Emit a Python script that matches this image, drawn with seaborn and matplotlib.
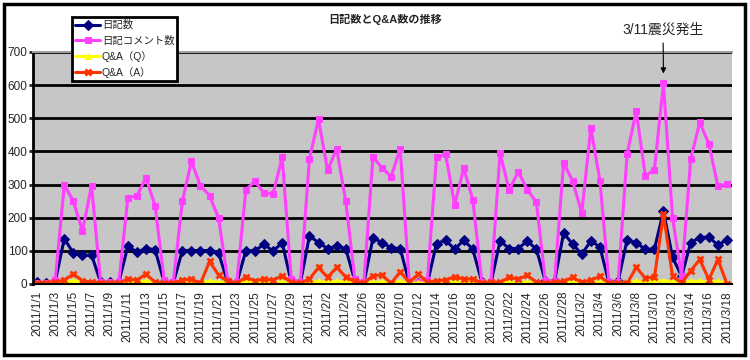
import matplotlib
matplotlib.use("Agg")
import matplotlib.pyplot as plt
import numpy as np
import pandas as pd
import seaborn as sns
from matplotlib.patches import Rectangle

# daily values, 2011/1/1 .. 2011/3/18
dates = pd.date_range("2011-01-01", "2011-03-18", freq="D")
date_labels = [f"{d.year}/{d.month}/{d.day}" for d in dates]

diary = [5, 3, 8, 137, 93, 86, 88, 5, 5, 5,
         114, 96, 107, 104, 5, 3, 101, 101, 101, 101,
         93, 5, 3, 101, 100, 120, 99, 125, 5, 3,
         145, 125, 107, 114, 107, 10, 3, 139, 125, 109,
         107, 3, 3, 3, 122, 132, 105, 132, 105, 5,
         3, 130, 107, 107, 130, 105, 8, 8, 154, 120,
         90, 130, 112, 3, 8, 134, 124, 105, 105, 220,
         81, 23, 125, 140, 142, 117, 134]

comments = [3, 3, 12, 300, 249, 160, 297, 5, 5, 5,
            259, 267, 320, 236, 12, 5, 249, 370, 296, 267,
            198, 10, 5, 284, 310, 274, 272, 383, 15, 5,
            378, 497, 343, 408, 250, 15, 5, 384, 350, 324,
            408, 5, 5, 12, 383, 391, 239, 350, 254, 5,
            5, 395, 283, 339, 285, 247, 8, 8, 366, 310,
            215, 471, 312, 5, 5, 393, 522, 327, 344, 606,
            200, 23, 377, 488, 423, 295, 301]

qa_q = [1, 1, 2, 5, 10, 4, 3, 1, 1, 1,
        5, 5, 8, 4, 1, 1, 5, 6, 4, 8,
        5, 2, 1, 8, 5, 6, 4, 6, 1, 1,
        5, 8, 5, 8, 6, 2, 1, 5, 6, 3,
        8, 1, 4, 1, 4, 5, 6, 5, 5, 1,
        1, 4, 5, 4, 6, 3, 1, 1, 4, 5,
        3, 5, 5, 1, 1, 5, 8, 8, 8, 10,
        6, 2, 8, 8, 5, 8, 3]

qa_a = [2, 2, 5, 12, 30, 10, 5, 2, 2, 2,
        15, 12, 30, 5, 3, 2, 12, 15, 2, 68,
        27, 8, 3, 20, 10, 15, 12, 25, 5, 3,
        15, 50, 20, 50, 22, 8, 3, 25, 27, 2,
        37, 5, 30, 5, 10, 12, 22, 15, 15, 3,
        5, 5, 20, 15, 26, 5, 2, 5, 8, 20,
        5, 12, 23, 2, 2, 2, 50, 18, 20, 210,
        23, 3, 40, 74, 13, 74, 0]

series = [
    ("日記数", diary, "#000080", "D", 5),
    ("日記コメント数", comments, "#FF40FF", "s", 4.5),
    ("Q&A（Q）", qa_q, "#FFFF00", "^", 5),
    ("Q&A（A）", qa_a, "#FF3300", "x", 5),
]

sns.set_style("white")
plt.rcParams["font.family"] = ["Liberation Sans", "Noto Sans CJK JP", "DejaVu Sans"]

fig = plt.figure(figsize=(7.5, 3.6), dpi=100)
ax = fig.add_axes([33 / 750, 1 - 284 / 360, (732 - 33) / 750, (284 - 52) / 360])
ax.set_facecolor("#C6C6C6")

x = np.arange(len(dates))
for name, vals, col, mk, ms in series:
    kw = dict(markeredgecolor=col, markerfacecolor=col)
    if mk == "x":
        kw["markeredgewidth"] = 2
    sns.lineplot(x=x, y=vals, ax=ax, color=col, lw=2.2, marker=mk,
                 markersize=ms, label=name, **kw)

ax.set_xlim(-0.45, len(dates) - 0.45)
ax.set_ylim(0, 700)
ax.set_yticks(range(0, 701, 100))
ax.yaxis.grid(True, color="black", lw=2)
ax.set_axisbelow(True)
ax.set_xticks(x[::2])
ax.set_xticklabels(date_labels[::2], rotation=90, fontsize=8.5)
ax.tick_params(axis="y", labelsize=8.5, length=3, width=2, left=True, pad=1)
ax.tick_params(axis="x", length=0, pad=5)
ax.set_xlabel("")
ax.set_ylabel("")
ax.spines["right"].set_visible(False)
ax.spines["top"].set_color("#A0A0A0")
ax.spines["top"].set_linewidth(1.5)
ax.spines["left"].set_color("black")
ax.spines["left"].set_linewidth(2)
ax.spines["bottom"].set_color("black")
ax.spines["bottom"].set_linewidth(1.5)

leg = ax.legend(loc="upper left", bbox_to_anchor=(72 / 750, 1 - 17 / 360),
                bbox_transform=fig.transFigure, fontsize=7.5, frameon=True,
                fancybox=False, edgecolor="black", framealpha=1,
                borderpad=0.3, labelspacing=0.5, handlelength=2.4,
                handletextpad=0.15, borderaxespad=0)
leg.get_frame().set_linewidth(2)
leg.set_zorder(10)

fig.text(385 / 750, 1 - 19 / 360, "日記数とQ&A数の推移", ha="center", va="center",
         fontsize=8, fontweight="bold")

ax.annotate("3/11震災発生", xy=(69, 635), xytext=(663, 330),
            textcoords="figure pixels", ha="center", va="center", fontsize=10,
            arrowprops=dict(arrowstyle="-|>", color="black", lw=0.8,
                            mutation_scale=8, shrinkA=2, shrinkB=0))

fig.patches.append(Rectangle((4 / 750, 5 / 360), 741 / 750, 351 / 360,
                             transform=fig.transFigure, fill=False,
                             edgecolor="black", lw=2.5))

fig.savefig("out.png", dpi=100)
